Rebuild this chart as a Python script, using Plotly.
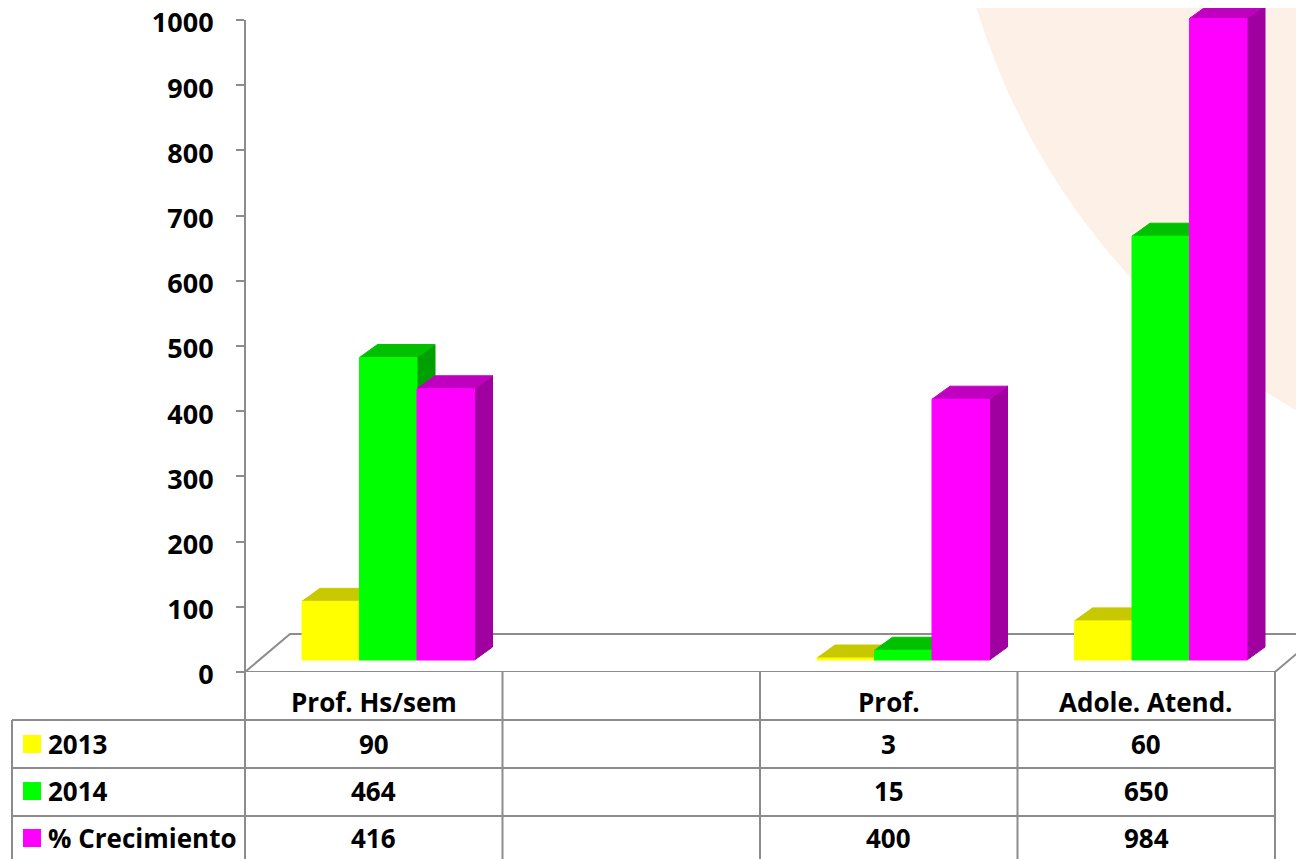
import plotly.graph_objects as go

# ---------------- data ----------------
categories = ["Prof. Hs/sem", "", "Prof.", "Adole. Atend."]
series_names = ["2013", "2014", "% Crecimiento"]
v2013 = [90, None, 3, 60]
v2014 = [464, None, 15, 650]
v_crec = [416, None, 400, 984]
y_ticks = [0, 100, 200, 300, 400, 500, 600, 700, 800, 900, 1000]

series_values = [v2013, v2014, v_crec]
front_colors = ["#FFFF00", "#00FF00", "#FF00FF"]
top_colors = ["#C8C800", "#00C000", "#C000C0"]
side_colors = ["#A0A000", "#00A000", "#A000A0"]

# ---------------- geometry ----------------
OFF = 8                              # page body margin
W, H = 1304 - OFF, 859 - OFF
L = 245 - OFF                        # y axis position in figure px
T = 0
B = H - (672 - OFF)                  # plot bottom at page y=672
PW, PH = W - L, H - B - T
CAT_PX = 257.5                       # px per category
PX_PER_UNIT = 0.652                  # px per value unit
X_MAX = PW / CAT_PX
Y_MAX = PH / PX_PER_UNIT

def dx(px):
    return px / CAT_PX

def dy(px):
    return px / PX_PER_UNIT

FRONT = (dx(14.5), dy(12))
BACK = (dx(32.5), dy(25))
FLOOR = (dx(45), dy(38))
BW = dx(57.5)

GRAY = "#8C8C8C"
FONT = "Open Sans"

fig = go.Figure()

def poly(xs, ys, color):
    fig.add_trace(go.Scatter(
        x=xs + [xs[0]], y=ys + [ys[0]], mode="lines", fill="toself",
        fillcolor=color, line=dict(color=color, width=1),
        hoverinfo="skip", showlegend=False))

n = len(categories)
# floor (behind bars)
fig.add_trace(go.Scatter(
    x=[0, FLOOR[0], X_MAX + 0.5], y=[0, FLOOR[1], FLOOR[1]],
    mode="lines", line=dict(color=GRAY, width=2),
    hoverinfo="skip", showlegend=False))
fig.add_trace(go.Scatter(
    x=[0, n, n + FLOOR[0]], y=[0, 0, FLOOR[1]],
    mode="lines", line=dict(color=GRAY, width=2),
    hoverinfo="skip", showlegend=False))

# 3D bars
ddx, ddy = BACK[0] - FRONT[0], BACK[1] - FRONT[1]
for i, cat in enumerate(categories):
    for k, vals in enumerate(series_values):
        v = vals[i]
        if v is None:
            continue
        left = i + 0.5 - 1.5 * BW + k * BW
        x0 = left + FRONT[0]
        x1 = x0 + BW
        y0 = FRONT[1]
        y1 = FRONT[1] + v
        poly([x1, x1, x1 + ddx, x1 + ddx], [y0, y1, y1 + ddy, y0 + ddy], side_colors[k])
        poly([x0, x1, x1 + ddx, x0 + ddx], [y1, y1, y1 + ddy, y1 + ddy], top_colors[k])
        poly([x0, x1, x1, x0], [y0, y0, y1, y1], front_colors[k])

# ---------------- helpers (page px -> paper) ----------------
def px_x(px):
    return (px - OFF - L) / PW

def px_y(py):
    return (H - B - (py - OFF)) / PH

def cat_x(c):
    return c * CAT_PX / PW

shapes = []
shapes.append(dict(type="circle", xref="paper", yref="paper",
                   x0=px_x(946), x1=px_x(2346), y0=px_y(504), y1=px_y(-896),
                   fillcolor="#FDF1E7", line=dict(width=0), layer="below"))
shapes.append(dict(type="line", xref="paper", yref="y", x0=0, x1=0, y0=0, y1=y_ticks[-1],
                   line=dict(color=GRAY, width=2)))

row_lines = [720, 768, 816]
for ry in row_lines:
    shapes.append(dict(type="line", xref="paper", yref="paper",
                       x0=px_x(12), x1=cat_x(n), y0=px_y(ry), y1=px_y(ry),
                       line=dict(color=GRAY, width=2)))
for c in range(n + 1):
    shapes.append(dict(type="line", xref="paper", yref="paper",
                       x0=cat_x(c), x1=cat_x(c), y0=px_y(672), y1=px_y(870),
                       line=dict(color=GRAY, width=2)))
shapes.append(dict(type="line", xref="paper", yref="paper",
                   x0=px_x(12), x1=px_x(12), y0=px_y(720), y1=px_y(870),
                   line=dict(color=GRAY, width=2)))

annotations = []
tfont = dict(family=FONT, size=26, color="black", weight=700)
header_y = 702
row_y = [744, 791, 838]
for i, cat in enumerate(categories):
    annotations.append(dict(xref="paper", yref="paper", x=cat_x(i + 0.5), y=px_y(header_y),
                            text=cat, showarrow=False, font=tfont,
                            xanchor="center", yanchor="middle"))
    for k, vals in enumerate(series_values):
        v = vals[i]
        if v is None:
            continue
        annotations.append(dict(xref="paper", yref="paper", x=cat_x(i + 0.5), y=px_y(row_y[k]),
                                text=str(v), showarrow=False, font=tfont,
                                xanchor="center", yanchor="middle"))
for k, name in enumerate(series_names):
    shapes.append(dict(type="rect", xref="paper", yref="paper",
                       x0=px_x(23), x1=px_x(41), y0=px_y(row_y[k] + 9), y1=px_y(row_y[k] - 9),
                       fillcolor=front_colors[k], line=dict(width=0)))
    annotations.append(dict(xref="paper", yref="paper", x=px_x(46), y=px_y(row_y[k]),
                            text=name, showarrow=False, font=tfont,
                            xanchor="left", yanchor="middle"))

fig.update_layout(
    width=W, height=H,
    margin=dict(l=L, r=0, t=T, b=B, pad=0, autoexpand=False),
    paper_bgcolor="white", plot_bgcolor="rgba(0,0,0,0)",
    shapes=shapes, annotations=annotations,
    xaxis=dict(range=[0, X_MAX], visible=False, fixedrange=True, automargin=False),
    yaxis=dict(range=[0, Y_MAX], tickvals=y_ticks, ticktext=[str(t) for t in y_ticks],
               ticks="outside", ticklen=8, tickwidth=2, tickcolor=GRAY,
               showline=False, showgrid=False, zeroline=False,
               tickfont=dict(family=FONT, size=27, color="black", weight=700),
               ticklabelstandoff=17, ticklabelshift=3, ticklabeloverflow="allow",
               automargin=False, fixedrange=True),
    showlegend=False,
)

fig.write_html("out.html")
